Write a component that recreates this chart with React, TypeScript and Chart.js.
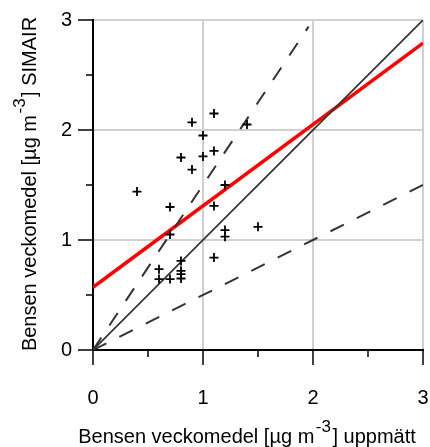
import React, { useEffect, useRef } from "react";
import { Chart, registerables } from "chart.js";

Chart.register(...registerables);

// Measured (x) vs SIMAIR (y) weekly benzene means
const measuredX = [1.1, 0.9, 1.4, 1.0, 1.1, 0.8, 1.0, 0.9, 1.2, 0.4, 0.7, 1.1, 0.7, 1.2, 1.2, 1.5, 1.1, 0.6, 0.6, 0.7, 0.8, 0.8, 0.8, 0.8];
const simairY = [2.15, 2.07, 2.05, 1.95, 1.81, 1.75, 1.76, 1.64, 1.5, 1.44, 1.3, 1.31, 1.05, 1.09, 1.03, 1.12, 0.84, 0.735, 0.645, 0.645, 0.81, 0.72, 0.69, 0.65];

// Reference lines
const oneToOneX = [0, 3];
const oneToOneY = [0, 3];
const upperX = [0, 1.96];
const upperY = [0, 2.94];
const lowerX = [0, 3];
const lowerY = [0, 1.5];
// Regression line
const fitX = [0, 3];
const fitY = [0.57, 2.79];

const axisMin = 0;
const axisMax = 3;
const tickStep = 0.5;

// Axis titles: [before superscript, superscript, after superscript]
const xTitleParts = ["Bensen veckomedel [µg m", "-3", "] uppmätt"];
const yTitleParts = ["Bensen veckomedel [µg m", "-3", "] SIMAIR"];

const FONT = "'Liberation Sans', Arial, sans-serif";
const MAIN_SIZE = 20;
const SUP_SIZE = 17;

const toPts = (xs: number[], ys: number[]) => xs.map((x, i) => ({ x, y: ys[i] }));

function drawRichTitle(ctx: CanvasRenderingContext2D, parts: string[], cx: number, cy: number, rotate: boolean) {
  const main = `${MAIN_SIZE}px ${FONT}`;
  const sup = `${SUP_SIZE}px ${FONT}`;
  ctx.save();
  ctx.translate(cx, cy);
  if (rotate) ctx.rotate(-Math.PI / 2);
  ctx.fillStyle = "#000";
  ctx.textBaseline = "alphabetic";
  ctx.textAlign = "left";
  ctx.font = main;
  const w0 = ctx.measureText(parts[0]).width;
  const w2 = ctx.measureText(parts[2]).width;
  ctx.font = sup;
  const w1 = ctx.measureText(parts[1]).width;
  const gap = 1.5;
  const total = w0 + gap + w1 + gap + w2;
  let x = -total / 2;
  const baseline = 7;
  ctx.font = main;
  ctx.fillText(parts[0], x, baseline);
  x += w0 + gap;
  ctx.font = sup;
  ctx.fillText(parts[1], x, baseline - 11.5);
  x += w1 + gap;
  ctx.font = main;
  ctx.fillText(parts[2], x, baseline);
  ctx.restore();
}

const outerTicks = {
  id: "outerTicks",
  afterDraw(chart: any) {
    const { ctx, chartArea, scales } = chart;
    ctx.save();
    ctx.strokeStyle = "#000";
    ctx.lineWidth = 1.5;
    for (const t of scales.x.ticks) {
      const len = Number.isInteger(t.value) ? 15 : 7;
      const x = scales.x.getPixelForValue(t.value);
      ctx.beginPath();
      ctx.moveTo(x, chartArea.bottom);
      ctx.lineTo(x, chartArea.bottom + len);
      ctx.stroke();
    }
    for (const t of scales.y.ticks) {
      const len = Number.isInteger(t.value) ? 15 : 7;
      const y = scales.y.getPixelForValue(t.value);
      ctx.beginPath();
      ctx.moveTo(chartArea.left - len, y);
      ctx.lineTo(chartArea.left, y);
      ctx.stroke();
    }
    ctx.restore();
    drawRichTitle(ctx, xTitleParts, 247, 436, false);
    drawRichTitle(ctx, yTitleParts, 29, 184, true);
  },
};

const gridColor = (c: any) =>
  c.tick && Number.isInteger(c.tick.value) && c.tick.value > 0 ? "#d0d0d0" : "rgba(0,0,0,0)";

const zeroPad = (s: any) => {
  s.paddingLeft = 0;
  s.paddingRight = 0;
  s.paddingTop = 0;
  s.paddingBottom = 0;
};

export default function App() {
  const ref = useRef<HTMLCanvasElement>(null);
  useEffect(() => {
    if (!ref.current) return;
    const chart = new Chart(ref.current, {
      type: "scatter",
      data: {
        datasets: [
          {
            type: "scatter",
            data: toPts(measuredX, simairY),
            pointStyle: "cross",
            pointRadius: 4.5,
            pointBorderWidth: 1.8,
            borderColor: "#000",
            backgroundColor: "#000",
          },
          {
            type: "line",
            data: toPts(upperX, upperY),
            borderColor: "#333",
            borderWidth: 2,
            borderDash: [15, 14.5],
            pointRadius: 0,
            fill: false,
          },
          {
            type: "line",
            data: toPts(lowerX, lowerY),
            borderColor: "#333",
            borderWidth: 2,
            borderDash: [15, 14.5],
            pointRadius: 0,
            fill: false,
          },
          {
            type: "line",
            data: toPts(oneToOneX, oneToOneY),
            borderColor: "#333",
            borderWidth: 1.7,
            pointRadius: 0,
            fill: false,
          },
          {
            type: "line",
            data: toPts(fitX, fitY),
            borderColor: "#ff0000",
            borderWidth: 3.5,
            pointRadius: 0,
            fill: false,
          },
        ],
      },
      options: {
        responsive: false,
        animation: false,
        events: [],
        layout: { padding: { top: 20, right: 7, left: 0, bottom: 0 } },
        plugins: { legend: { display: false }, tooltip: { enabled: false } },
        scales: {
          x: {
            type: "linear",
            min: axisMin,
            max: axisMax,
            afterFit: (s: any) => {
              s.height = 97;
              zeroPad(s);
            },
            ticks: {
              stepSize: tickStep,
              color: "#000",
              padding: 36,
              font: { family: FONT, size: MAIN_SIZE },
              callback: (v: any) => (Number.isInteger(v) ? String(v) : ""),
              maxRotation: 0,
              autoSkip: false,
            },
            grid: { drawTicks: false, color: gridColor, lineWidth: 2 },
            border: { display: true, color: "#000", width: 2 },
            title: { display: false },
          },
          y: {
            type: "linear",
            min: axisMin,
            max: axisMax,
            afterFit: (s: any) => {
              s.width = 93;
              zeroPad(s);
            },
            ticks: {
              stepSize: tickStep,
              color: "#000",
              padding: 21,
              font: { family: FONT, size: MAIN_SIZE },
              callback: (v: any) => (Number.isInteger(v) ? String(v) : ""),
              autoSkip: false,
            },
            grid: { drawTicks: false, color: gridColor, lineWidth: 2 },
            border: { display: true, color: "#000", width: 2 },
            title: { display: false },
          },
        },
      },
      plugins: [outerTicks],
    } as any);
    return () => chart.destroy();
  }, []);
  return (
    <div style={{ position: "fixed", left: 0, top: 0, width: 430, height: 447, background: "#fff" }}>
      <canvas ref={ref} width={430} height={447} style={{ width: 430, height: 447 }} />
    </div>
  );
}
